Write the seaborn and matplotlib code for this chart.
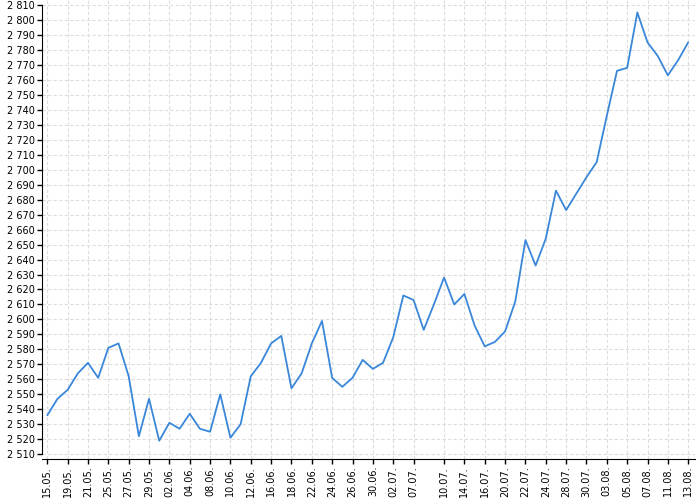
import matplotlib
matplotlib.use("Agg")
import matplotlib.pyplot as plt
import seaborn as sns
import numpy as np
import pandas as pd

# trading days (labels as on the chart)
dates = ["15.05.", "18.05.", "19.05.", "20.05.", "21.05.", "22.05.", "25.05.", "26.05.",
         "27.05.", "28.05.", "29.05.", "01.06.", "02.06.", "03.06.", "04.06.", "05.06.",
         "08.06.", "09.06.", "10.06.", "11.06.", "12.06.", "15.06.", "16.06.", "17.06.",
         "18.06.", "19.06.", "22.06.", "23.06.", "24.06.", "25.06.", "26.06.", "29.06.",
         "30.06.", "01.07.", "02.07.", "03.07.", "07.07.", "08.07.", "09.07.", "10.07.",
         "13.07.", "14.07.", "15.07.", "16.07.", "17.07.", "20.07.", "21.07.", "22.07.",
         "23.07.", "24.07.", "27.07.", "28.07.", "29.07.", "30.07.", "31.07.", "03.08.",
         "04.08.", "05.08.", "06.08.", "07.08.", "10.08.", "11.08.", "12.08.", "13.08."]

values = [2536, 2547, 2553, 2564, 2571, 2561, 2581, 2584,
          2562, 2522, 2547, 2519, 2531, 2527, 2537, 2527,
          2525, 2550, 2521, 2530, 2562, 2571, 2584, 2589,
          2554, 2564, 2584, 2599, 2561, 2555, 2561, 2573,
          2567, 2571, 2588, 2616, 2613, 2593, 2610, 2628,
          2610, 2617, 2596, 2582, 2585, 2592, 2612, 2653,
          2636, 2654, 2686, 2673, 2684, 2695, 2705, 2736,
          2766, 2768, 2805, 2785, 2776, 2763, 2773, 2785]

tick_dates = ["15.05.", "19.05.", "21.05.", "25.05.", "27.05.", "29.05.", "02.06.", "04.06.",
              "08.06.", "10.06.", "12.06.", "16.06.", "18.06.", "22.06.", "24.06.", "26.06.",
              "30.06.", "02.07.", "07.07.", "10.07.", "14.07.", "16.07.", "20.07.", "22.07.",
              "24.07.", "28.07.", "30.07.", "03.08.", "05.08.", "07.08.", "11.08.", "13.08."]

df = pd.DataFrame({"date": dates, "value": values})
df["idx"] = range(len(df))

sns.set_style("white")
fig = plt.figure(figsize=(7, 5), dpi=100)
ax = fig.add_axes([0.0596, 0.082, 0.933, 0.918])

sns.lineplot(data=df, x="idx", y="value", color="#3a87d9", linewidth=1.3, ax=ax)

ax.set_xticks([dates.index(d) for d in tick_dates])
ax.set_xticklabels(tick_dates, rotation=90)
yt = np.arange(2510, 2811, 10)
ax.set_yticks(yt)
ax.set_yticklabels([f"{v:,}".replace(",", " ") for v in yt])

ax.set_xlim(-0.55, 63.65)
ax.set_ylim(2506.8, 2813.3)
ax.grid(True, color="#dddddd", linestyle=(0, (3, 2)), linewidth=0.8)
ax.set_xlabel("")
ax.set_ylabel("")

sns.despine(ax=ax)
ax.spines["left"].set_bounds(2510, 2810)
ax.spines["left"].set_color("black")
ax.spines["bottom"].set_color("black")
ax.tick_params(axis="both", length=3.5, width=1, color="black", labelsize=7,
               pad=1.5, left=True, bottom=True, labelcolor="black")

fig.savefig("out.png", dpi=100)
